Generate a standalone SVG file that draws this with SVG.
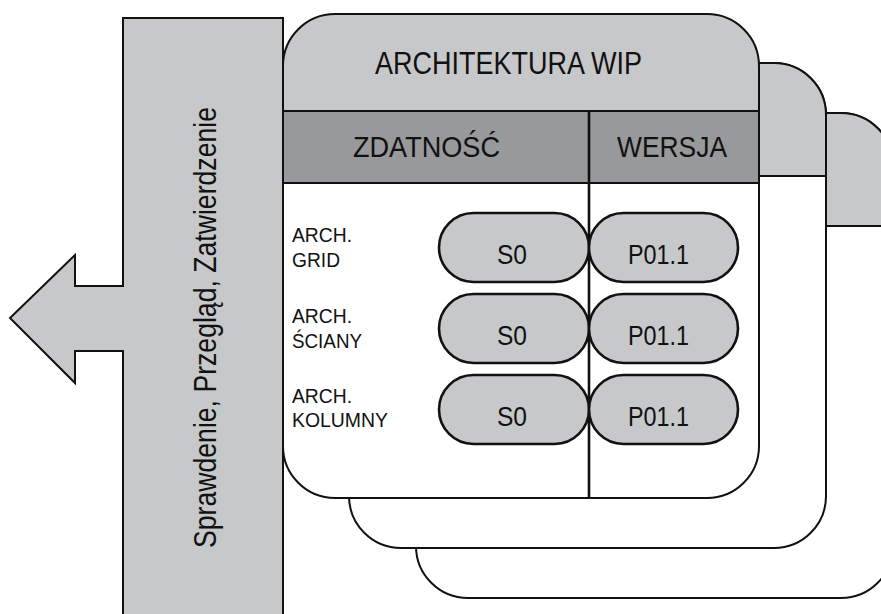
<svg xmlns="http://www.w3.org/2000/svg" width="881" height="614" viewBox="0 0 881 614">
  <style>
    .txt { font-family: "Liberation Sans", Arial, sans-serif; fill: #111; }
    .edge { stroke: #111; stroke-width: 2; }
    .light { fill: #c7c8ca; }
    .dark { fill: #98999b; }
    .paper { fill: #ffffff; }
    .pill { fill: #c7c8ca; stroke: #111; stroke-width: 2.6; }
  </style>
  <rect width="881" height="614" fill="#ffffff"/>

  <!-- back sheet (third) -->
  <g id="sheet3">
    <rect class="paper edge" x="416" y="113" width="477" height="485" rx="52"/>
    <path class="light edge" d="M416,226 V165 A52,52 0 0 1 468,113 H841 A52,52 0 0 1 893,165 V226 Z"/>
  </g>

  <!-- middle sheet (second) -->
  <g id="sheet2">
    <rect class="paper edge" x="349" y="63" width="477" height="485" rx="52"/>
    <path class="light edge" d="M349,176 V115 A52,52 0 0 1 401,63 H774 A52,52 0 0 1 826,115 V176 Z"/>
  </g>

  <!-- review arrow pointing left -->
  <g id="review-arrow">
    <path class="light edge" d="M123,620 V351 H75 V383 L10,318 L75,255 V286 H123 V18 H283 V620"/>
    <text class="txt" font-size="32" transform="translate(216,548) rotate(-90)" textLength="441" lengthAdjust="spacingAndGlyphs">Sprawdenie, Przegląd, Zatwierdzenie</text>
  </g>

  <!-- front sheet -->
  <g id="sheet1">
    <rect class="paper" x="283" y="14" width="476" height="484" rx="52"/>
    <path class="light" d="M283,111 V66 A52,52 0 0 1 335,14 H707 A52,52 0 0 1 759,66 V111 Z"/>
    <rect class="dark" x="283" y="111" width="476" height="72"/>
    <line class="edge" x1="283" y1="111" x2="759" y2="111"/>
    <line class="edge" x1="283" y1="183" x2="759" y2="183"/>
    <line stroke="#111" stroke-width="2.6" x1="589" y1="111" x2="589" y2="498"/>
    <rect class="edge" fill="none" x="283" y="14" width="476" height="484" rx="52"/>
    <text class="txt" x="375" y="74" font-size="31" textLength="267" lengthAdjust="spacingAndGlyphs">ARCHITEKTURA WIP</text>
    <text class="txt" x="353" y="157" font-size="30" textLength="147" lengthAdjust="spacingAndGlyphs">ZDATNOŚĆ</text>
    <text class="txt" x="617" y="157" font-size="30" textLength="110" lengthAdjust="spacingAndGlyphs">WERSJA</text>
  </g>

  <!-- rows -->
  <g id="row-grid">
    <text class="txt" x="292" y="242" font-size="21" textLength="60" lengthAdjust="spacingAndGlyphs">ARCH.</text>
    <text class="txt" x="292" y="267" font-size="21" textLength="48" lengthAdjust="spacingAndGlyphs">GRID</text>
    <rect class="pill" x="439" y="213" width="150" height="69" rx="34.5"/>
    <rect class="pill" x="589" y="213" width="149" height="69" rx="34.5"/>
    <text class="txt" x="497" y="264" font-size="28" textLength="30" lengthAdjust="spacingAndGlyphs">S0</text>
    <text class="txt" x="628" y="264" font-size="28" textLength="61" lengthAdjust="spacingAndGlyphs">P01.1</text>
  </g>
  <g id="row-sciany">
    <text class="txt" x="292" y="323" font-size="21" textLength="60" lengthAdjust="spacingAndGlyphs">ARCH.</text>
    <text class="txt" x="292" y="348" font-size="21" textLength="70" lengthAdjust="spacingAndGlyphs">ŚCIANY</text>
    <rect class="pill" x="439" y="294" width="150" height="69" rx="34.5"/>
    <rect class="pill" x="589" y="294" width="149" height="69" rx="34.5"/>
    <text class="txt" x="497" y="345" font-size="28" textLength="30" lengthAdjust="spacingAndGlyphs">S0</text>
    <text class="txt" x="628" y="345" font-size="28" textLength="61" lengthAdjust="spacingAndGlyphs">P01.1</text>
  </g>
  <g id="row-kolumny">
    <text class="txt" x="292" y="403" font-size="21" textLength="60" lengthAdjust="spacingAndGlyphs">ARCH.</text>
    <text class="txt" x="292" y="427" font-size="21" textLength="96" lengthAdjust="spacingAndGlyphs">KOLUMNY</text>
    <rect class="pill" x="439" y="375" width="150" height="69" rx="34.5"/>
    <rect class="pill" x="589" y="375" width="149" height="69" rx="34.5"/>
    <text class="txt" x="497" y="426" font-size="28" textLength="30" lengthAdjust="spacingAndGlyphs">S0</text>
    <text class="txt" x="628" y="426" font-size="28" textLength="61" lengthAdjust="spacingAndGlyphs">P01.1</text>
  </g>

  <g id="connectors"></g>
</svg>
